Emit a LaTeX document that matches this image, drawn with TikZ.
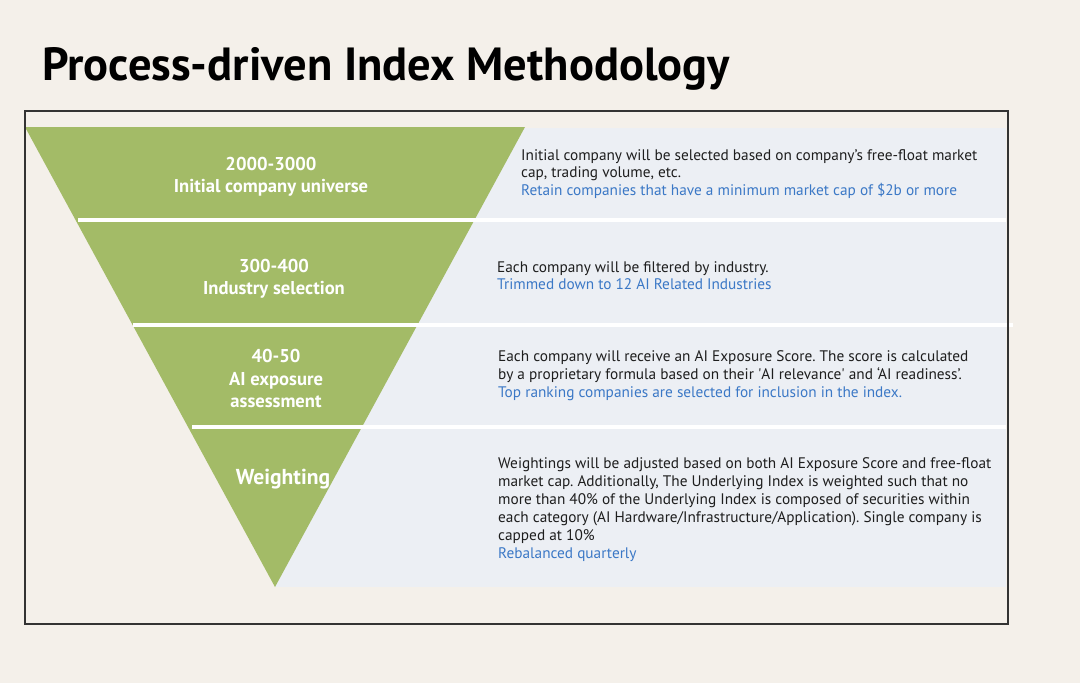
\documentclass[tikz,border=0pt]{standalone}
\usepackage{fontspec}
\setmainfont{PT Sans}
\frenchspacing
\definecolor{bgc}{HTML}{F4F0EA}
\definecolor{panelc}{HTML}{ECEFF4}
\definecolor{greenc}{HTML}{A3BB67}
\definecolor{framec}{HTML}{333333}
\definecolor{bodyc}{HTML}{1E1E1E}
\definecolor{bluec}{HTML}{3B78C6}
\tikzset{
  body/.style={anchor=base west, inner sep=0pt, text=bodyc, font=\fontsize{15.3}{18}\selectfont},
  bluetext/.style={body, text=bluec},
  stagelbl/.style={anchor=base, inner sep=0pt, text=white, font=\bfseries\fontsize{18.6}{22}\selectfont},
  sepline/.style={white, line width=3.5pt},
}
\begin{document}
\begin{tikzpicture}[x=1pt,y=-1pt]
\useasboundingbox (0,0) rectangle (1080,683);
\fill[bgc] (0,0) rectangle (1080,683);
% title
\node[anchor=base west, inner sep=0pt, font=\bfseries\fontsize{46.5}{50}\selectfont] (title) at (42,80) {Process-driven Index Methodology};
% panel and funnel
\fill[panelc] (275,128) rectangle (1006,587);
\fill[greenc] (25,127) -- (525,127) -- (275,587) -- cycle;
\coordinate (s1a) at (78,220); \coordinate (s1b) at (1006,220);
\coordinate (s2a) at (133,325); \coordinate (s2b) at (1013,325);
\coordinate (s3a) at (192,427); \coordinate (s3b) at (1006,427);
\draw[sepline] (s1a) -- (s1b);
\draw[sepline] (s2a) -- (s2b);
\draw[sepline] (s3a) -- (s3b);
\draw[framec, line width=1.5pt] (25,111) rectangle (1008,624);
% stage labels
\node[stagelbl] (l1a) at (271,170) {2000-3000};
\node[stagelbl] (l1b) at (271,192) {Initial company universe};
\node[stagelbl] (l2a) at (274,272) {300-400};
\node[stagelbl] (l2b) at (274,294) {Industry selection};
\node[stagelbl] (l3a) at (276,362) {40-50};
\node[stagelbl] (l3b) at (276,385) {AI exposure};
\node[stagelbl] (l3c) at (276,407) {assessment};
\node[stagelbl, font=\bfseries\fontsize{21.6}{26}\selectfont] (l4) at (283,484) {Weighting};
% descriptions
\node[body] (d1a) at (521,160) {Initial company will be selected based on company’s free-float market};
\node[body] (d1b) at (521,177.5) {cap, trading volume, etc.};
\node[bluetext] (d1c) at (521,195) {Retain companies that have a minimum market cap of \$2b or more};
\node[body] (d2a) at (497,272) {Each company will be filtered by industry.};
\node[bluetext] (d2b) at (497,289) {Trimmed down to 12 AI Related Industries};
\node[body] (d3a) at (498,361) {Each company will receive an AI Exposure Score. The score is calculated};
\node[body] (d3b) at (498,379) {by a proprietary formula based on their \textquotesingle AI relevance\textquotesingle{} and ‘AI readiness’.};
\node[bluetext] (d3c) at (498,397) {Top ranking companies are selected for inclusion in the index.};
\node[body] (d4a) at (498,468) {Weightings will be adjusted based on both AI Exposure Score and free-float};
\node[body] (d4b) at (498,486) {market cap. Additionally, The Underlying Index is weighted such that no};
\node[body] (d4c) at (498,504) {more than 40\% of the Underlying Index is composed of securities within};
\node[body] (d4d) at (498,522) {each category (AI Hardware/Infrastructure/Application). Single company is};
\node[body] (d4e) at (498,540) {capped at 10\%};
\node[bluetext] (d4f) at (498,558) {Rebalanced quarterly};
\end{tikzpicture}
\end{document}
